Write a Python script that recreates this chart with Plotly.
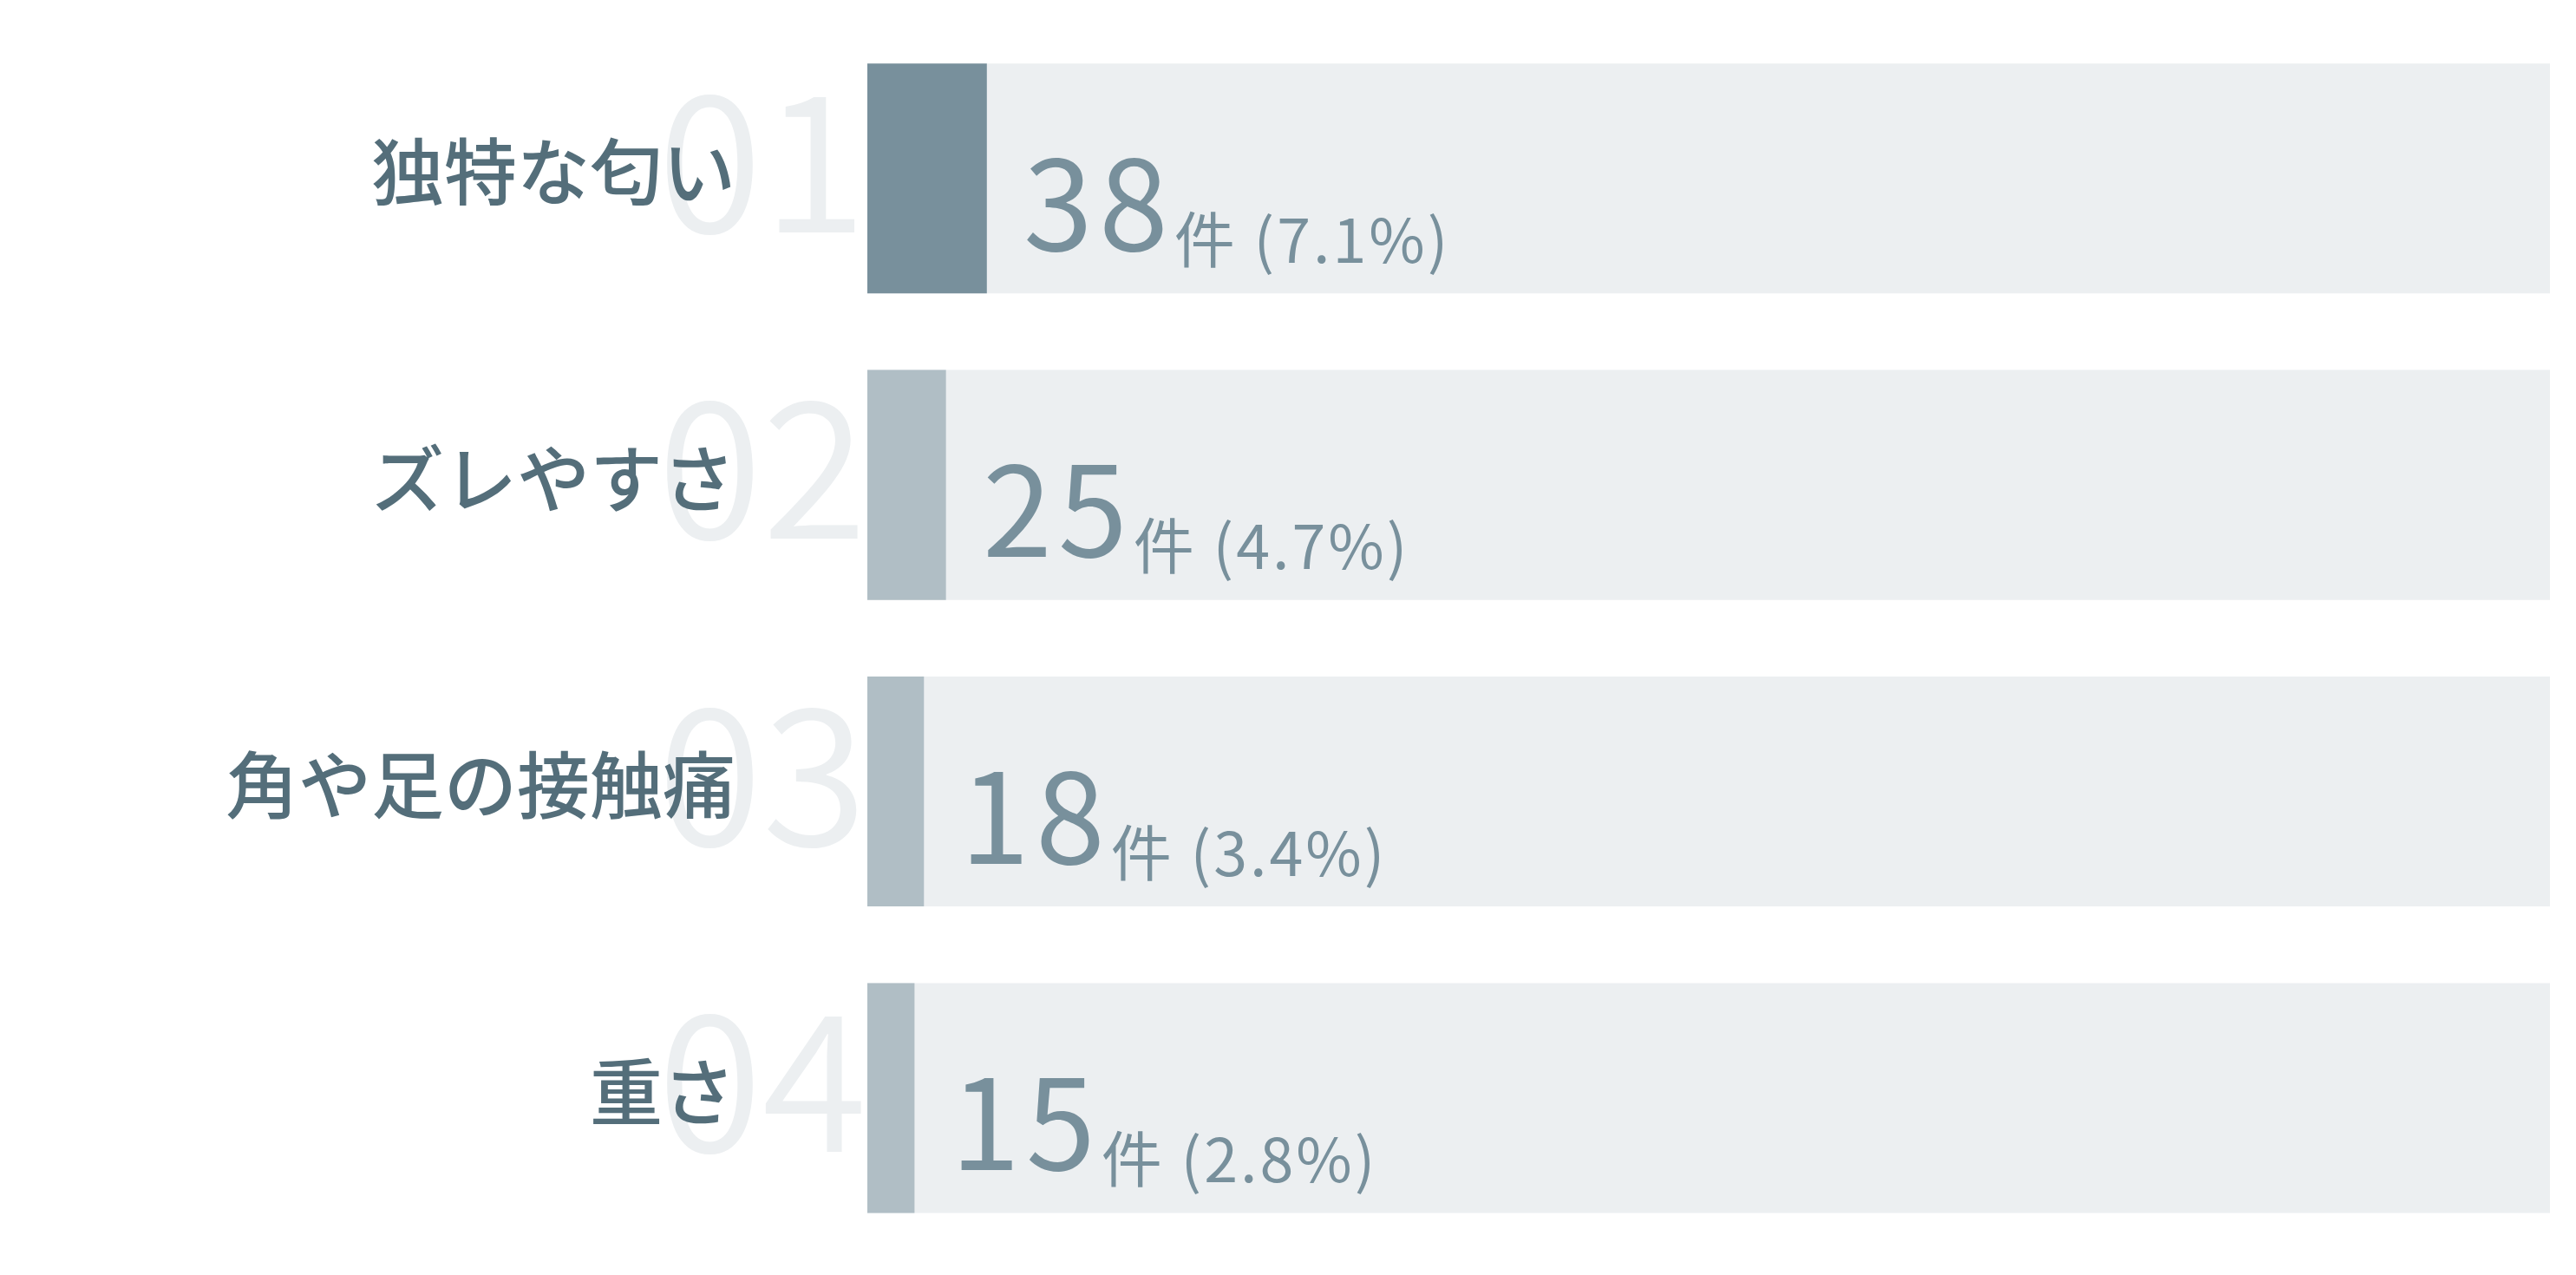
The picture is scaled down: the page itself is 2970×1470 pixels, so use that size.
import plotly.graph_objects as go

# --- dados ---
categorias = ['独特な匂い', 'ズレやすさ', '角や足の接触痛', '重さ']
rankings = ['01', '02', '03', '04']
contagens = [38, 25, 18, 15]
total_respostas = 535

cor_destaque = '#78909C'
cor_normal = '#B0BEC5'
cor_fundo = '#ECEFF1'
cor_label = '#546E7A'
fonte = 'Noto Sans CJK JP'

cores_barras = [cor_destaque] + [cor_normal] * (len(contagens) - 1)

fig = go.Figure()

# barra de fundo (total)
fig.add_trace(go.Bar(
    y=categorias, x=[total_respostas] * len(categorias), orientation='h',
    marker=dict(color=cor_fundo, line=dict(width=0)),
    hoverinfo='skip', showlegend=False
))
# barra de valores
fig.add_trace(go.Bar(
    y=categorias, x=contagens, orientation='h',
    marker=dict(color=cores_barras, line=dict(width=0)),
    hovertemplate='%{y}: %{x}件<extra></extra>', showlegend=False
))

anotacoes = []
# números de ranking (ficam por baixo dos rótulos)
for cat, rank in zip(categorias, rankings):
    anotacoes.append(dict(
        x=0, y=cat, xref='x', yref='y', text=rank, showarrow=False,
        xanchor='right', yanchor='middle', xshift=2, yshift=34,
        font=dict(family=fonte, size=220, color=cor_fundo, weight=350)
    ))
# rótulos das categorias
for cat in categorias:
    anotacoes.append(dict(
        x=0, y=cat, xref='x', yref='y', text=cat, showarrow=False,
        xanchor='right', yanchor='middle', xshift=-150, yshift=12,
        font=dict(family=fonte, size=84, color=cor_label, weight=500)
    ))
# valores + porcentagem
for cat, n in zip(categorias, contagens):
    pct = n / total_respostas * 100
    texto = (f'<span style="font-size:144px;letter-spacing:7px">{n}</span>'
             f'<span style="font-size:70px;letter-spacing:3px;baseline-shift:-14px">件 ({pct:.1f}%)</span>')
    anotacoes.append(dict(
        x=n, y=cat, xref='x', yref='y', text=texto, showarrow=False,
        xanchor='left', yanchor='middle', xshift=40, yshift=-20,
        font=dict(family=fonte, size=70, color=cor_destaque)
    ))

fig.update_layout(
    width=2970, height=1470,
    margin=dict(l=992, r=38, t=21, b=17),
    barmode='overlay', bargap=0.25,
    plot_bgcolor='white', paper_bgcolor='white',
    xaxis=dict(range=[0, total_respostas], visible=False, fixedrange=True),
    yaxis=dict(autorange='reversed', visible=False, fixedrange=True),
    annotations=anotacoes,
    font=dict(family=fonte)
)

fig.write_html('out.html')
